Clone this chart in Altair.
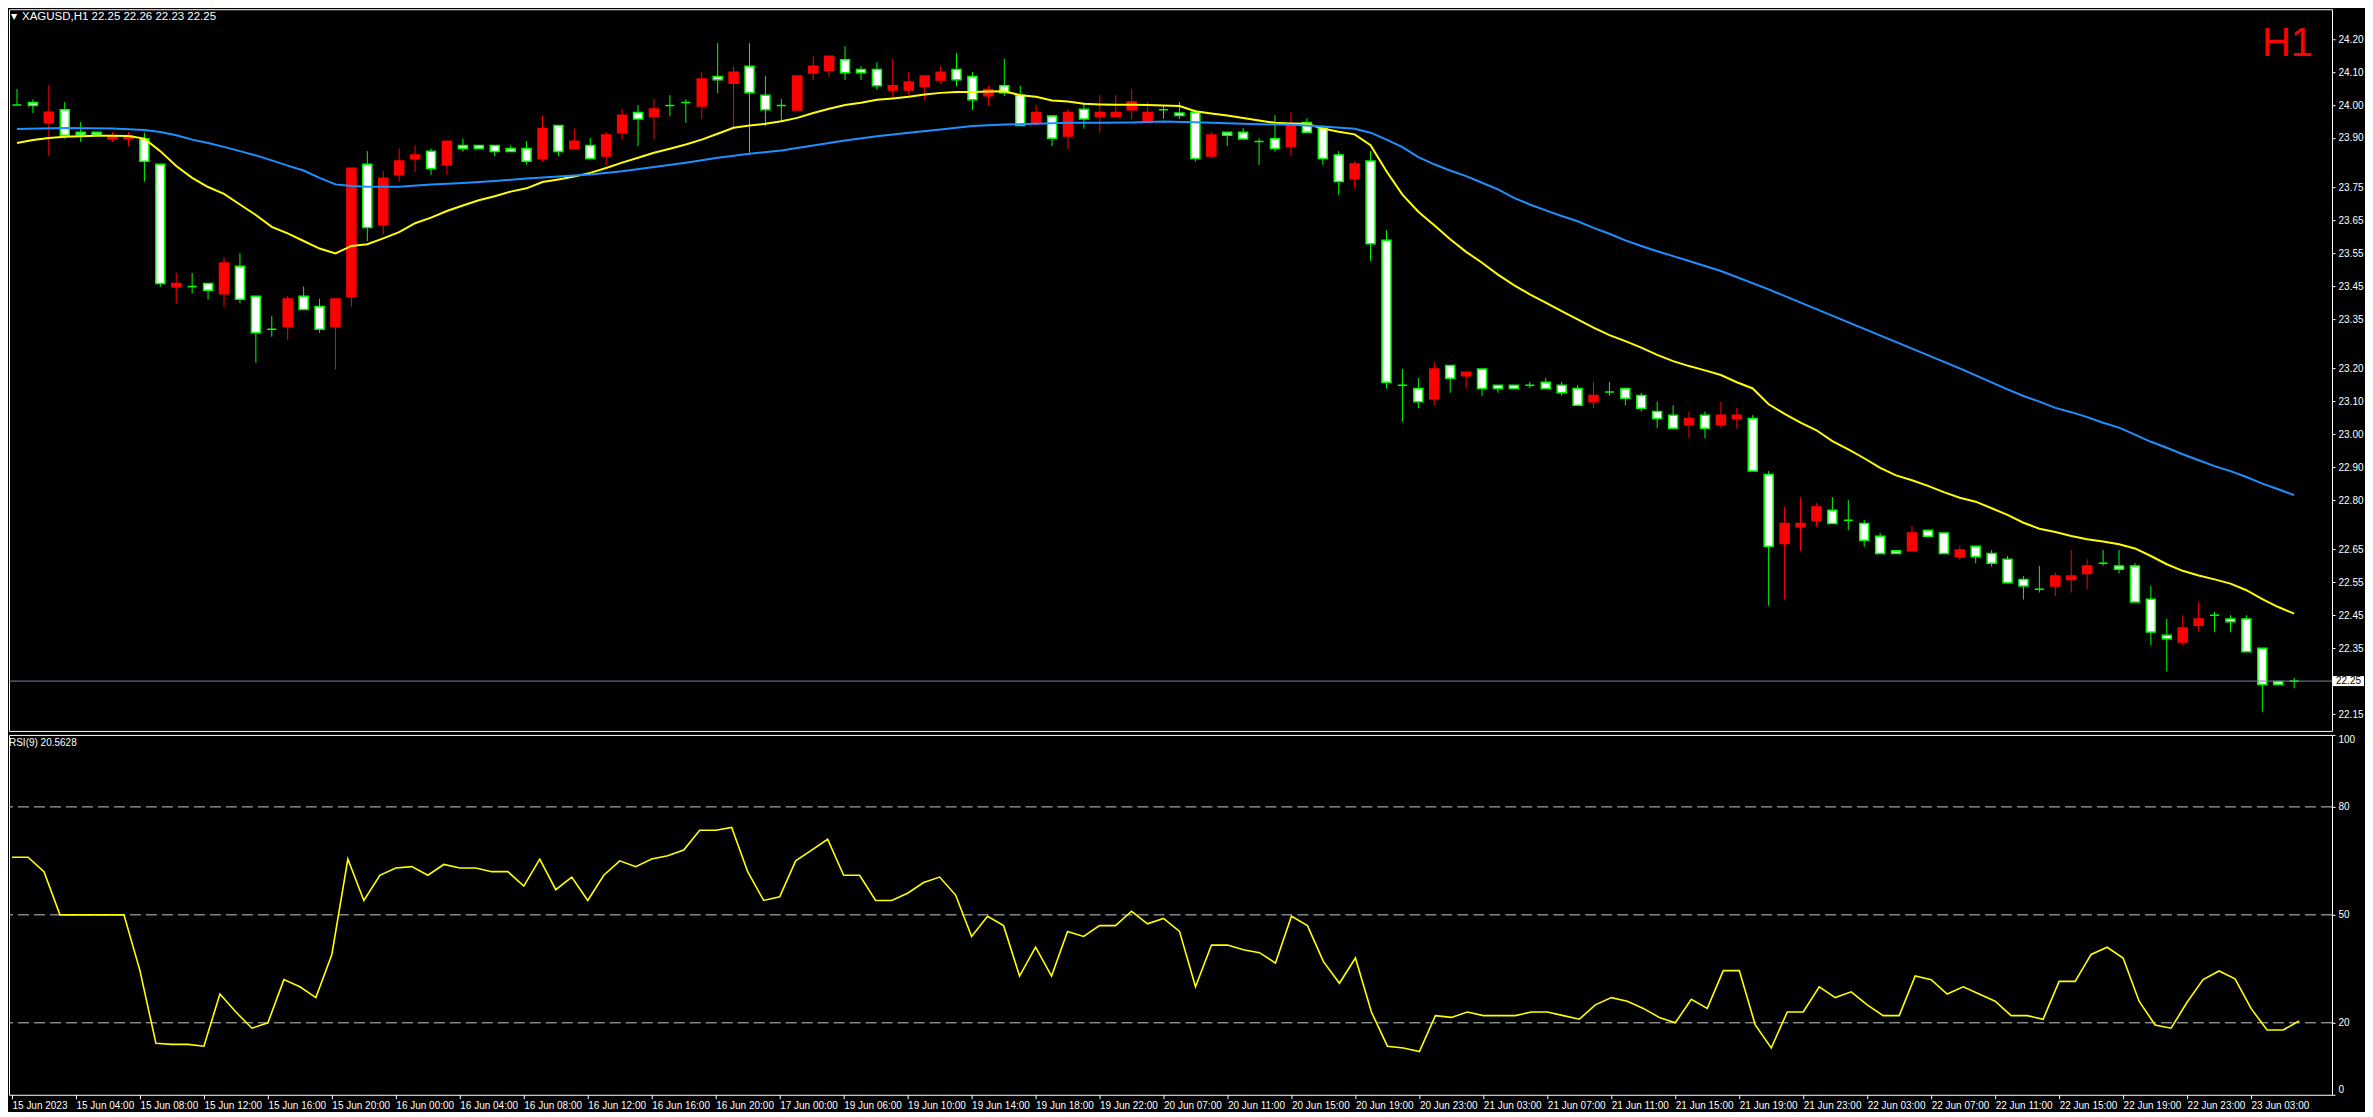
import altair as alt
import pandas as pd

# ---------------- data ----------------
opens = [24.000, 24.008, 23.946, 23.986, 23.917, 23.917, 23.897, 23.898, 23.898, 23.820,
         23.448, 23.449, 23.458, 23.427, 23.510, 23.419, 23.319, 23.327, 23.419, 23.388,
         23.327, 23.418, 23.820, 23.636, 23.788, 23.837, 23.860, 23.819, 23.877, 23.877,
         23.877, 23.868, 23.868, 23.837, 23.938, 23.867, 23.877, 23.845, 23.916, 23.977,
         23.966, 23.999, 24.008, 23.997, 24.087, 24.066, 24.118, 24.030, 23.999, 23.985,
         24.097, 24.106, 24.138, 24.108, 24.108, 24.046, 24.046, 24.057, 24.076, 24.108,
         24.087, 24.028, 24.059, 24.030, 23.946, 23.967, 23.906, 23.987, 23.966, 23.966,
         23.986, 23.951, 23.986, 23.976, 23.978, 23.845, 23.917, 23.917, 23.889, 23.898,
         23.875, 23.947, 23.930, 23.848, 23.776, 23.830, 23.589, 23.149, 23.139, 23.108,
         23.209, 23.178, 23.198, 23.149, 23.149, 23.149, 23.158, 23.149, 23.139, 23.099,
         23.128, 23.139, 23.118, 23.069, 23.058, 23.029, 23.058, 23.029, 23.047, 23.048,
         22.878, 22.668, 22.719, 22.738, 22.769, 22.739, 22.729, 22.690, 22.646, 22.646,
         22.708, 22.700, 22.628, 22.660, 22.638, 22.620, 22.559, 22.529, 22.539, 22.559,
         22.577, 22.608, 22.600, 22.600, 22.499, 22.389, 22.369, 22.420, 22.450, 22.439,
         22.439, 22.350, 22.249, 22.250]
highs = [24.049, 24.017, 24.061, 24.009, 23.948, 23.917, 23.918, 23.918, 23.916, 23.820,
         23.491, 23.490, 23.458, 23.538, 23.550, 23.419, 23.359, 23.420, 23.449, 23.411,
         23.411, 23.808, 23.860, 23.799, 23.868, 23.878, 23.868, 23.890, 23.898, 23.877,
         23.877, 23.877, 23.890, 23.969, 23.938, 23.929, 23.900, 23.918, 23.988, 24.000,
         24.018, 24.030, 24.018, 24.100, 24.188, 24.118, 24.188, 24.088, 24.018, 24.088,
         24.148, 24.148, 24.179, 24.118, 24.130, 24.140, 24.100, 24.088, 24.118, 24.158,
         24.100, 24.059, 24.140, 24.059, 24.000, 23.967, 23.988, 24.008, 24.030, 24.030,
         24.048, 24.009, 23.999, 24.009, 23.986, 23.918, 23.917, 23.930, 23.899, 23.969,
         23.978, 23.960, 23.938, 23.860, 23.830, 23.860, 23.620, 23.198, 23.171, 23.219,
         23.209, 23.188, 23.198, 23.149, 23.149, 23.159, 23.171, 23.159, 23.149, 23.159,
         23.159, 23.139, 23.126, 23.099, 23.088, 23.069, 23.069, 23.099, 23.080, 23.058,
         22.888, 22.779, 22.809, 22.791, 22.809, 22.800, 22.739, 22.700, 22.646, 22.721,
         22.708, 22.700, 22.660, 22.660, 22.648, 22.630, 22.569, 22.600, 22.580, 22.648,
         22.620, 22.648, 22.648, 22.608, 22.539, 22.439, 22.450, 22.490, 22.460, 22.450,
         22.450, 22.350, 22.249, 22.260]
lows = [24.000, 23.976, 23.845, 23.898, 23.888, 23.909, 23.888, 23.875, 23.767, 23.448,
        23.397, 23.427, 23.409, 23.387, 23.398, 23.217, 23.296, 23.287, 23.379, 23.308,
        23.197, 23.387, 23.587, 23.606, 23.767, 23.797, 23.788, 23.788, 23.858, 23.868,
        23.845, 23.859, 23.819, 23.827, 23.845, 23.867, 23.838, 23.818, 23.896, 23.875,
        23.896, 23.966, 23.946, 23.957, 24.036, 23.933, 23.855, 23.937, 23.951, 23.985,
        24.076, 24.086, 24.076, 24.076, 24.046, 24.022, 24.028, 24.015, 24.066, 24.057,
        23.985, 23.997, 24.028, 23.938, 23.936, 23.875, 23.866, 23.928, 23.916, 23.966,
        23.957, 23.951, 23.958, 23.958, 23.828, 23.838, 23.876, 23.897, 23.818, 23.858,
        23.845, 23.917, 23.819, 23.727, 23.746, 23.526, 23.139, 23.038, 23.079, 23.088,
        23.126, 23.139, 23.117, 23.126, 23.139, 23.139, 23.139, 23.117, 23.088, 23.079,
        23.117, 23.088, 23.069, 23.018, 23.018, 22.988, 22.988, 23.018, 23.017, 22.888,
        22.479, 22.498, 22.646, 22.719, 22.729, 22.708, 22.658, 22.638, 22.638, 22.646,
        22.690, 22.638, 22.618, 22.608, 22.598, 22.549, 22.498, 22.519, 22.509, 22.519,
        22.529, 22.600, 22.577, 22.490, 22.359, 22.279, 22.359, 22.399, 22.399, 22.399,
        22.339, 22.157, 22.240, 22.228]
closes = [24.000, 23.999, 23.978, 23.908, 23.909, 23.909, 23.903, 23.907, 23.829, 23.458,
          23.458, 23.449, 23.437, 23.520, 23.410, 23.308, 23.319, 23.411, 23.379, 23.319,
          23.411, 23.808, 23.628, 23.778, 23.830, 23.848, 23.807, 23.890, 23.868, 23.868,
          23.859, 23.859, 23.829, 23.929, 23.859, 23.890, 23.838, 23.909, 23.969, 23.958,
          23.988, 23.999, 24.008, 24.079, 24.077, 24.100, 24.037, 23.986, 23.999, 24.088,
          24.118, 24.148, 24.098, 24.098, 24.059, 24.059, 24.070, 24.088, 24.100, 24.077,
          24.016, 24.047, 24.037, 23.938, 23.977, 23.899, 23.977, 23.958, 23.977, 23.977,
          24.009, 23.977, 23.986, 23.968, 23.838, 23.909, 23.908, 23.897, 23.889, 23.868,
          23.938, 23.917, 23.838, 23.768, 23.821, 23.579, 23.158, 23.149, 23.099, 23.198,
          23.170, 23.188, 23.139, 23.139, 23.139, 23.149, 23.139, 23.126, 23.088, 23.118,
          23.128, 23.109, 23.079, 23.048, 23.018, 23.048, 23.018, 23.058, 23.058, 22.888,
          22.660, 22.729, 22.729, 22.779, 22.729, 22.739, 22.678, 22.638, 22.638, 22.700,
          22.690, 22.638, 22.648, 22.628, 22.608, 22.549, 22.539, 22.529, 22.569, 22.569,
          22.600, 22.608, 22.590, 22.490, 22.399, 22.379, 22.411, 22.439, 22.450, 22.430,
          22.339, 22.240, 22.240, 22.250]

yellow_ma = [23.885, 23.894, 23.900, 23.904, 23.905, 23.907, 23.907, 23.906, 23.898, 23.860,
             23.815, 23.779, 23.751, 23.730, 23.698, 23.666, 23.630, 23.610, 23.587, 23.564,
             23.549, 23.572, 23.577, 23.595, 23.614, 23.641, 23.658, 23.678, 23.695, 23.711,
             23.723, 23.737, 23.747, 23.766, 23.774, 23.783, 23.794, 23.809, 23.825, 23.840,
             23.855, 23.867, 23.880, 23.895, 23.913, 23.931, 23.938, 23.943, 23.951, 23.961,
             23.976, 23.989, 24.000, 24.007, 24.016, 24.020, 24.025, 24.032, 24.037, 24.040,
             24.040, 24.041, 24.042, 24.030, 24.025, 24.014, 24.011, 24.004, 24.002, 24.001,
             24.001, 24.000, 23.999, 23.997, 23.981, 23.974, 23.968, 23.961, 23.953, 23.946,
             23.944, 23.943, 23.929, 23.919, 23.911, 23.878, 23.799, 23.728, 23.676, 23.635,
             23.592, 23.554, 23.521, 23.485, 23.453, 23.425, 23.400, 23.374, 23.349, 23.324,
             23.301, 23.283, 23.263, 23.241, 23.222, 23.207, 23.194, 23.180, 23.158, 23.139,
             23.091, 23.062, 23.035, 23.012, 22.979, 22.954, 22.927, 22.898, 22.875, 22.860,
             22.843, 22.824, 22.807, 22.795, 22.775, 22.755, 22.731, 22.713, 22.703, 22.691,
             22.681, 22.674, 22.666, 22.653, 22.630, 22.605, 22.585, 22.571, 22.559, 22.546,
             22.526, 22.499, 22.475, 22.455]

blue_idx = [0, 3, 6, 8, 9, 10, 11, 12, 13, 14, 15, 16, 17, 18, 19, 20, 21, 22, 24, 26,
            28, 30, 32, 34, 36, 38, 40, 42, 44, 46, 48, 50, 52, 54, 56, 58, 60, 62, 64, 66,
            68, 70, 72, 74, 76, 78, 80, 82, 84, 85, 86, 87, 88, 89, 90, 91, 92, 93, 94, 95,
            96, 97, 98, 99, 100, 101, 102, 103, 104, 105, 106, 107, 110, 113, 116, 119, 122, 125, 126, 127,
            128, 129, 130, 131, 132, 133, 134, 135, 136, 137, 138, 139, 140, 141, 142, 143]
blue_ma = [23.927, 23.930, 23.929, 23.924, 23.918, 23.908, 23.895, 23.885, 23.873, 23.860,
           23.847, 23.832, 23.816, 23.801, 23.779, 23.759, 23.754, 23.752, 23.752, 23.759,
           23.763, 23.769, 23.777, 23.783, 23.789, 23.799, 23.812, 23.825, 23.840, 23.852,
           23.862, 23.877, 23.892, 23.905, 23.916, 23.926, 23.936, 23.941, 23.943, 23.946,
           23.946, 23.947, 23.950, 23.948, 23.945, 23.942, 23.940, 23.935, 23.928, 23.916,
           23.895, 23.872, 23.842, 23.820, 23.801, 23.784, 23.764, 23.744, 23.718, 23.698,
           23.680, 23.663, 23.647, 23.627, 23.609, 23.589, 23.572, 23.556, 23.541, 23.526,
           23.511, 23.496, 23.440, 23.380, 23.320, 23.260, 23.200, 23.136, 23.116, 23.099,
           23.080, 23.067, 23.052, 23.035, 23.020, 22.999, 22.977, 22.959, 22.939, 22.921,
           22.903, 22.888, 22.870, 22.850, 22.833, 22.815]

rsi = [66, 66, 62, 50, 50, 50, 50, 50, 34.5, 14.3,
       14, 14, 13.5, 28, 23, 18.5, 20, 32, 30, 27,
       39, 65.5, 54, 61, 63, 63.4, 61, 64, 63, 63,
       62, 62, 58, 65.5, 57, 60.5, 54, 61, 65, 63.4,
       65.5, 66.4, 68, 73.5, 73.5, 74.3, 62, 54, 55, 65,
       68, 71, 61, 61, 54, 54, 56, 59, 60.5, 55.5,
       44, 49.6, 47, 33, 41, 33, 45.4, 44, 47, 47,
       51, 47.5, 49, 45.4, 30, 41.6, 41.6, 40.3, 39.5, 36.6,
       49.6, 47, 37, 31, 38, 23, 13.5, 13, 12, 22,
       21.5, 23, 22, 22, 22, 23, 23, 22, 21, 25,
       27, 26, 24, 21.5, 20, 26.5, 24, 34.5, 34.5, 19.4,
       13, 23, 23, 30, 27, 28.6, 25, 22, 22, 33,
       32, 28, 30, 28, 26, 22, 22, 21, 31.5, 31.5,
       39, 41, 38, 26, 19.4, 18.5, 25.7, 32, 34.4, 32.2,
       24, 18, 18, 20.5]

x_labels = ["15 Jun 2023", "15 Jun 04:00", "15 Jun 08:00", "15 Jun 12:00", "15 Jun 16:00",
            "15 Jun 20:00", "16 Jun 00:00", "16 Jun 04:00", "16 Jun 08:00", "16 Jun 12:00",
            "16 Jun 16:00", "16 Jun 20:00", "17 Jun 00:00", "19 Jun 06:00", "19 Jun 10:00",
            "19 Jun 14:00", "19 Jun 18:00", "19 Jun 22:00", "20 Jun 07:00", "20 Jun 11:00",
            "20 Jun 15:00", "20 Jun 19:00", "20 Jun 23:00", "21 Jun 03:00", "21 Jun 07:00",
            "21 Jun 11:00", "21 Jun 15:00", "21 Jun 19:00", "21 Jun 23:00", "22 Jun 03:00",
            "22 Jun 07:00", "22 Jun 11:00", "22 Jun 15:00", "22 Jun 19:00", "22 Jun 23:00",
            "23 Jun 03:00"]
price_ticks = [24.20, 24.10, 24.00, 23.90, 23.75, 23.65, 23.55, 23.45, 23.35, 23.20,
               23.10, 23.00, 22.90, 22.80, 22.65, 22.55, 22.45, 22.35, 22.15]
rsi_ticks = [0, 20, 50, 80, 100]
rsi_levels = [20, 50, 80]
header_text = "XAGUSD,H1  22.25 22.26 22.23 22.25"
rsi_text = "RSI(9) 20.5628"
timeframe_text = "H1"

# ---------------- frames ----------------
n = len(opens)
df = pd.DataFrame({"i": range(n), "open": opens, "high": highs, "low": lows, "close": closes})
df["dir"] = ["up" if c > o else ("down" if c < o else "doji") for o, c in zip(opens, closes)]
ma_y = pd.DataFrame({"i": range(len(yellow_ma)), "v": yellow_ma})
ma_b = pd.DataFrame({"i": blue_idx, "v": blue_ma})
rsi_df = pd.DataFrame({"i": range(len(rsi)), "v": rsi})
last_df = pd.DataFrame({"p": [closes[-1]], "t": [f"{closes[-1]:.2f}"]})
lvl_df = pd.DataFrame({"v": rsi_levels})

W = 2324
H_MAIN = 722
H_RSI = 360
FONT = "Liberation Sans"

xscale = alt.Scale(domain=[-0.1875, 145.0625], nice=False, zero=False)
yscale = alt.Scale(domain=[22.0986, 24.2911], nice=False, zero=False)
rsi_scale = alt.Scale(domain=[0, 100], nice=False, zero=False)
dir_dom = ["up", "down", "doji"]

main_axis = alt.Axis(orient="right", values=price_ticks, format=".2f",
                     labelColor="#ffffff", tickColor="#ffffff", tickSize=3,
                     labelPadding=3, domain=False, grid=False,
                     labelFont=FONT, labelFontSize=10, title=None)
rsi_axis = alt.Axis(orient="right", values=rsi_ticks, labelColor="#ffffff",
                    tickColor="#ffffff", tickSize=3, labelPadding=3, domain=False,
                    grid=False, labelFlush=True, labelFont=FONT, labelFontSize=10, title=None)
label_expr = "[" + ",".join("'" + s + "'" for s in x_labels) + "][round(datum.value / 4)]"
time_axis = alt.Axis(orient="bottom", values=list(range(0, 4 * len(x_labels), 4)),
                     labelExpr=label_expr, labelAlign="left", labelColor="#ffffff",
                     tickColor="#ffffff", tickSize=4, labelPadding=2, domain=False,
                     grid=False, labelFont=FONT, labelFontSize=10, labelOverlap=False,
                     labelBound=False, title=None)

X = alt.X("i:Q", scale=xscale, axis=None)


def PY(field):
    return alt.Y(field, scale=yscale, axis=main_axis)


wicks = alt.Chart(df).mark_rule(strokeWidth=1, clip=True).encode(
    x=X, y=PY("low:Q"), y2="high:Q",
    color=alt.Color("dir:N", scale=alt.Scale(domain=dir_dom, range=["#ff0000", "#00ff00", "#00ff00"]),
                    legend=None),
)

bodies = alt.Chart(df).mark_bar(size=9, strokeWidth=1.5, clip=True).encode(
    x=X, y=PY("open:Q"), y2="close:Q",
    fill=alt.Fill("dir:N", scale=alt.Scale(domain=dir_dom, range=["#ff0000", "#ffffff", "#000000"]),
                  legend=None),
    stroke=alt.Stroke("dir:N", scale=alt.Scale(domain=dir_dom, range=["#ff0000", "#00ff00", "#00ff00"]),
                      legend=None),
)

line_y = alt.Chart(ma_y).mark_line(color="#ffff00", strokeWidth=2, clip=True).encode(
    x=X, y=PY("v:Q"))
line_b = alt.Chart(ma_b).mark_line(color="#1e90ff", strokeWidth=2, clip=True).encode(
    x=X, y=PY("v:Q"))

bid_line = alt.Chart(last_df).mark_rule(color="#778899", strokeWidth=1).encode(y=PY("p:Q"))

price_box = alt.Chart(last_df).mark_rect(color="#ffffff", yOffset=-5, y2Offset=5).encode(
    x=alt.value(W + 1), x2=alt.value(W + 32), y=PY("p:Q"), y2="p:Q")
price_txt = alt.Chart(last_df).mark_text(color="#000000", font=FONT, fontSize=10,
                                         align="left", baseline="middle").encode(
    x=alt.value(W + 4), y=PY("p:Q"), text="t:N")

hdr = alt.Chart(pd.DataFrame({"t": [header_text]})).mark_text(
    color="#ffffff", font=FONT, fontSize=11.5, align="left", baseline="middle").encode(
    x=alt.value(13), y=alt.value(8), text="t:N")
tri = alt.Chart(pd.DataFrame({"t": ["▼"]})).mark_text(
    color="#ffffff", font="DejaVu Sans", fontSize=8, align="left", baseline="middle").encode(
    x=alt.value(2), y=alt.value(8), text="t:N")
tf = alt.Chart(pd.DataFrame({"t": [timeframe_text]})).mark_text(
    color="#ff0000", font=FONT, fontSize=40, align="right", baseline="alphabetic").encode(
    x=alt.value(2305), y=alt.value(47), text="t:N")

main = alt.layer(wicks, bodies, line_y, line_b, bid_line, price_box, price_txt, hdr, tri, tf).properties(
    width=W, height=H_MAIN)

# ---------------- RSI panel ----------------
levels = alt.Chart(lvl_df).mark_rule(color="#c8c8c8", strokeWidth=1, strokeDash=[11, 5]).encode(
    y=alt.Y("v:Q", scale=rsi_scale, axis=rsi_axis))
rsi_line = alt.Chart(rsi_df).mark_line(color="#ffff00", strokeWidth=1.6, clip=True).encode(
    x=alt.X("i:Q", scale=xscale, axis=time_axis),
    y=alt.Y("v:Q", scale=rsi_scale, axis=rsi_axis))
rsi_lbl = alt.Chart(pd.DataFrame({"t": [rsi_text]})).mark_text(
    color="#ffffff", font=FONT, fontSize=10, align="left", baseline="middle").encode(
    x=alt.value(0), y=alt.value(8), text="t:N")

rsi_panel = alt.layer(levels, rsi_line, rsi_lbl).properties(width=W, height=H_RSI)

chart = alt.vconcat(main, rsi_panel, spacing=2).properties(
    background="#000000", padding=0
).configure_view(stroke="#ffffff", strokeWidth=1)

chart.save("out.html", embed_options={"renderer": "svg", "actions": False})
